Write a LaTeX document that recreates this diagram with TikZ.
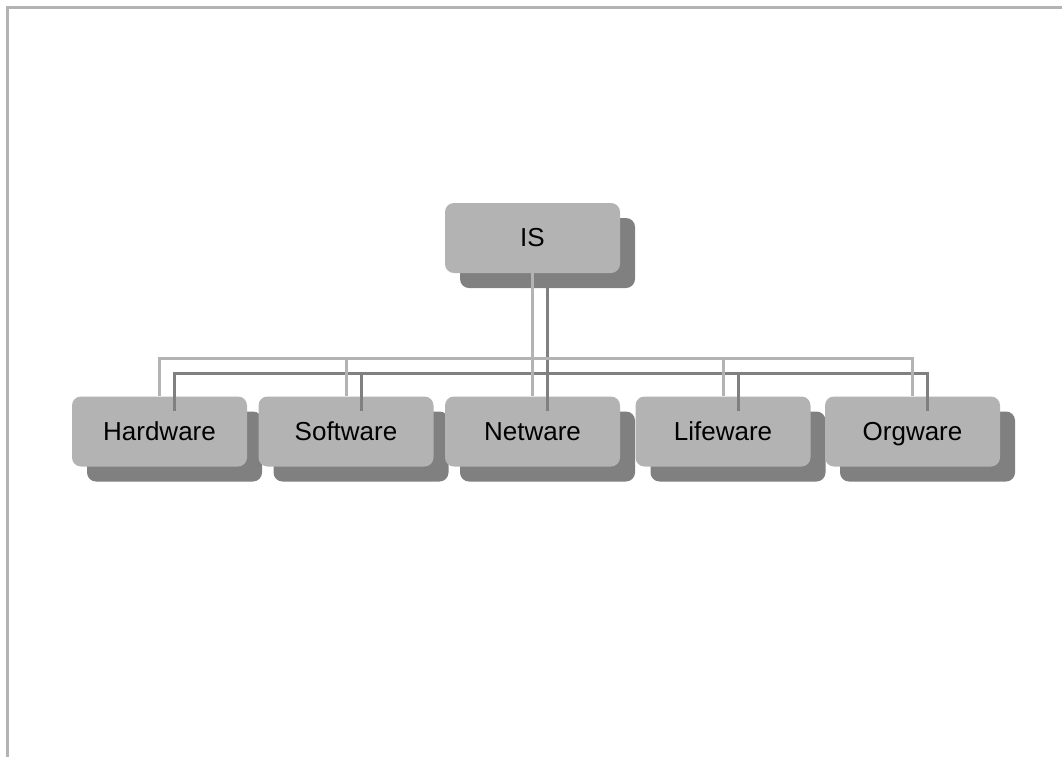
\documentclass[tikz,border=0pt]{standalone}
\usepackage{fontspec}
\setmainfont{Liberation Sans}
\usetikzlibrary{positioning}
\definecolor{boxgray}{HTML}{B3B3B3}
\definecolor{shadegray}{HTML}{808080}
\tikzstyle{unit} = [rectangle, rounded corners=9pt, fill=boxgray, minimum width=175pt, minimum height=70pt, text centered, text height=20pt, text depth=3pt, font=\fontsize{26}{30}\selectfont]
\tikzstyle{shade} = [rectangle, rounded corners=9pt, fill=shadegray, minimum width=175pt, minimum height=70pt]
\tikzstyle{linklight} = [line width=3pt, draw=boxgray]
\tikzstyle{linkdark} = [line width=3pt, draw=shadegray]
\tikzstyle{frame} = [line width=3pt, draw=boxgray]

\begin{document}
\begin{tikzpicture}[x=1pt,y=-1pt]
\useasboundingbox (0,0) rectangle (1062,756);
\draw [frame] (7,760) -- (7,7) -- (1066,7);

% shadows first
\node (is-s) [shade] at (547.5,253) {};
\node (hw-s) [shade] at (174.5,446.5) {};
\node (sw-s) [shade] at (361,446.5) {};
\node (nw-s) [shade] at (547.5,446.5) {};
\node (lw-s) [shade] at (738,446.5) {};
\node (ow-s) [shade] at (927.5,446.5) {};

\node (is) [unit] at ([shift={(-15,-15)}]is-s) {IS};
\node (hw) [unit] at ([shift={(-15,-15)}]hw-s) {Hardware};
\node (sw) [unit] at ([shift={(-15,-15)}]sw-s) {Software};
\node (nw) [unit] at ([shift={(-15,-15)}]nw-s) {Netware};
\node (lw) [unit] at ([shift={(-15,-15)}]lw-s) {Lifeware};
\node (ow) [unit] at ([shift={(-15,-15)}]ow-s) {Orgware};

\coordinate (lbus) at (0,358);
\coordinate (dbus) at (0,373);

\foreach \n in {hw,sw,nw,lw,ow}
  \draw [linkdark] (is-s.south) |- (\n-s.north |- dbus) -- (\n-s.north);
\foreach \n in {hw,sw,nw,lw,ow}
  \draw [linklight] (is.south) |- (\n.north |- lbus) -- (\n.north);

\end{tikzpicture}
\end{document}
